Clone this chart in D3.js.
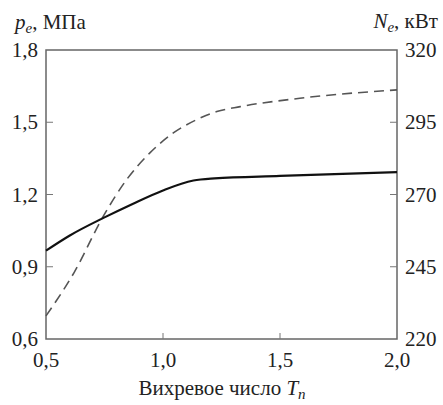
<!DOCTYPE html>
<html>
<head>
<meta charset="UTF-8">
<script src="https://d3js.org/d3.v7.min.js"></script>
<style>
  body { margin: 0; background: #fff; }
  svg text { font-family: "Liberation Serif", Tinos, "Times New Roman" !important; }
</style>
</head>
<body>
<svg width="443" height="405" font-family="Liberation Serif"></svg>
<script>
// vortex number T_n
const tP = [0.5, 0.6, 0.75, 0.87, 1.0, 1.13, 1.22, 1.5, 2.0];
// p_e, MPa (solid, left axis)
const pValues = [0.967, 1.029, 1.105, 1.161, 1.217, 1.258, 1.267, 1.277, 1.293];

const tN = [0.5, 0.62, 0.745, 0.845, 0.944, 1.044, 1.144, 1.23, 1.33, 1.585, 2.0];
// N_e, kW (dashed, right axis)
const nValues = [228, 243, 262.5, 275.2, 284.4, 291.3, 295.9, 298.7, 300.4, 303.3, 306.2];

const xTicks = [0.5, 1.0, 1.5, 2.0];
const leftTicks = [0.6, 0.9, 1.2, 1.5, 1.8];
const rightTicks = [220, 245, 270, 295, 320];

const svg = d3.select("svg");
const plotL = 46, plotR = 397, plotT = 50, plotB = 339;
const ink = "#222";
const serif = "Liberation Serif";

const x = d3.scaleLinear().domain([0.5, 2.0]).range([plotL, plotR]);
const yL = d3.scaleLinear().domain([0.6, 1.8]).range([plotB, plotT]);
const yR = d3.scaleLinear().domain([220, 320]).range([plotB, plotT]);

const fmt = d => d.toFixed(1).replace(".", ",");

// frame
svg.append("rect")
  .attr("x", plotL).attr("y", plotT)
  .attr("width", plotR - plotL).attr("height", plotB - plotT)
  .attr("fill", "none").attr("stroke", "#666").attr("stroke-width", 1.5);

// inner ticks
const tickColor = "#777";
svg.append("g").selectAll("line").data(leftTicks.slice(1, -1)).enter().append("line")
  .attr("x1", plotL).attr("x2", plotL + 7)
  .attr("y1", d => yL(d)).attr("y2", d => yL(d))
  .attr("stroke", tickColor).attr("stroke-width", 1);
svg.append("g").selectAll("line").data(rightTicks.slice(1, -1)).enter().append("line")
  .attr("x1", plotR - 7).attr("x2", plotR)
  .attr("y1", d => yR(d)).attr("y2", d => yR(d))
  .attr("stroke", tickColor).attr("stroke-width", 1);
svg.append("g").selectAll("line").data(xTicks.slice(1, -1)).enter().append("line")
  .attr("x1", d => x(d)).attr("x2", d => x(d))
  .attr("y1", plotB).attr("y2", plotB - 6)
  .attr("stroke", tickColor).attr("stroke-width", 1);

// tick labels
svg.append("g").selectAll("text").data(leftTicks).enter().append("text")
  .attr("font-family", serif)
  .attr("x", 38).attr("y", d => yL(d) + 7)
  .attr("text-anchor", "end").attr("font-size", 21).attr("fill", ink)
  .text(fmt);
svg.append("g").selectAll("text").data(rightTicks).enter().append("text")
  .attr("font-family", serif)
  .attr("x", 405).attr("y", d => yR(d) + 7)
  .attr("font-size", 21).attr("fill", ink)
  .text(d => d);
svg.append("g").selectAll("text").data(xTicks).enter().append("text")
  .attr("font-family", serif)
  .attr("x", d => x(d)).attr("y", 367)
  .attr("text-anchor", "middle").attr("font-size", 21).attr("fill", ink)
  .text(fmt);

// axis titles
const lt = svg.append("text").attr("font-family", serif)
  .attr("x", 15).attr("y", 29).attr("font-size", 21).attr("fill", ink);
lt.append("tspan").attr("font-style", "italic").text("p");
lt.append("tspan").attr("font-style", "italic").attr("font-size", 15).attr("dy", 4).text("e");
lt.append("tspan").attr("dy", -4).text(", МПа");

const rt = svg.append("text").attr("font-family", serif)
  .attr("x", 438).attr("y", 28).attr("font-size", 21).attr("text-anchor", "end").attr("fill", ink);
rt.append("tspan").attr("font-style", "italic").text("N");
rt.append("tspan").attr("font-style", "italic").attr("font-size", 15).attr("dy", 4).text("e");
rt.append("tspan").attr("dy", -4).text(", кВт");

const xt = svg.append("text").attr("font-family", serif)
  .attr("x", 222).attr("y", 395).attr("font-size", 21).attr("text-anchor", "middle").attr("fill", ink);
xt.append("tspan").text("Вихревое число ");
xt.append("tspan").attr("font-style", "italic").text("T");
xt.append("tspan").attr("font-style", "italic").attr("font-size", 15).attr("dy", 4).text("n");

// curves
const lineP = d3.line().x((d, i) => x(tP[i])).y(d => yL(d)).curve(d3.curveMonotoneX);
const lineN = d3.line().x((d, i) => x(tN[i])).y(d => yR(d)).curve(d3.curveMonotoneX);

svg.append("path").datum(nValues).attr("d", lineN)
  .attr("fill", "none").attr("stroke", "#555").attr("stroke-width", 1.6)
  .attr("stroke-dasharray", "10,6");
svg.append("path").datum(pValues).attr("d", lineP)
  .attr("fill", "none").attr("stroke", "#111").attr("stroke-width", 2.2);
</script>
</body>
</html>
